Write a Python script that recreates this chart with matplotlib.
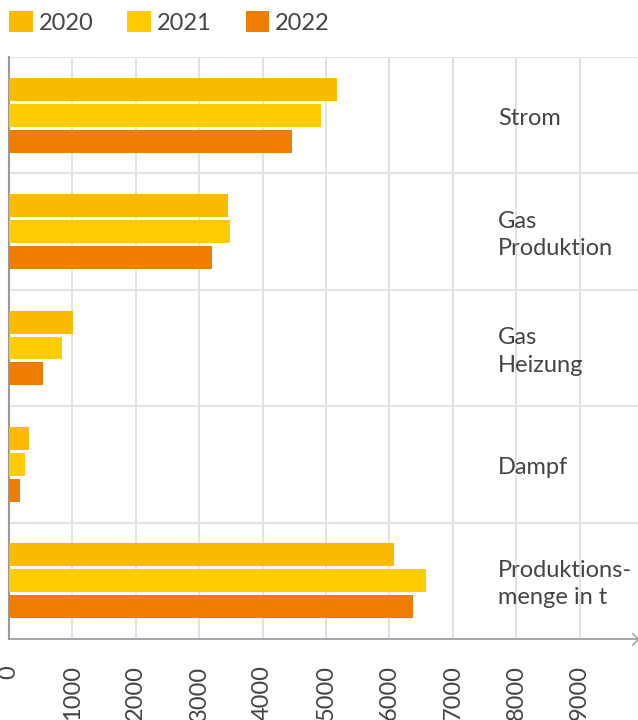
import matplotlib.pyplot as plt
from matplotlib.patches import Patch
from matplotlib.path import Path
import numpy as np

plt.rcParams['font.family'] = ['Lato', 'DejaVu Sans']

categories = ["Strom", "Gas\nProduktion", "Gas\nHeizung", "Dampf", "Produktions-\nmenge in t"]
years = ["2020", "2021", "2022"]
values_2020 = [5170, 3450, 1010, 315, 6070]
values_2021 = [4920, 3490, 836, 252, 6580]
values_2022 = [4460, 3200, 536, 173, 6370]
xticks = [0, 1000, 2000, 3000, 4000, 5000, 6000, 7000, 8000, 9000]

colors = ["#FBBA00", "#FECC00", "#EF7D00"]
text_color = "#444444"
fs = 17

fig = plt.figure(figsize=(6.38, 7.2), dpi=100)
ax = fig.add_axes([9 / 638, 81 / 720, 629 / 638, 582 / 720])

y = np.arange(len(categories))
series = [values_2020, values_2021, values_2022]
for j, vals in enumerate(series):
    ax.barh(y + (j - 1) * 0.223, vals, height=0.197, color=colors[j], zorder=3)

ax.set_xlim(0, 9920)
ax.set_ylim(len(categories) - 0.5, -0.5)

# category labels sit inside the plot on the right
for i, cat in enumerate(categories):
    ax.text(7710, i + 0.03, cat, ha="left", va="center", fontsize=fs,
            color=text_color, zorder=4, linespacing=1.36)

ax.set_xticks(xticks)
ax.set_xticklabels([str(t) for t in xticks], rotation=90, fontsize=fs,
                   color=text_color, va="top", ha="center")
ax.tick_params(axis="x", length=0, pad=19)
ax.set_yticks([])
ax.set_yticks(np.arange(-0.5, len(categories)), minor=True)
ax.tick_params(axis="y", which="both", length=0)

ax.grid(axis="x", color="#DDDDDD", linewidth=1.2, zorder=0)
ax.grid(axis="y", which="minor", color="#E3E3E3", linewidth=1.5, zorder=0)

for s in ["top", "right"]:
    ax.spines[s].set_visible(False)
ax.spines["left"].set_color("#999999")
ax.spines["left"].set_linewidth(1.5)
ax.spines["bottom"].set_color("#999999")
ax.spines["bottom"].set_linewidth(1.2)
chevron = Path([(-1, 1), (0, 0), (-1, -1)], [Path.MOVETO, Path.LINETO, Path.LINETO])
ax.plot(1, 0, marker=chevron, markersize=9, markerfacecolor="none",
        markeredgecolor="#999999", markeredgewidth=1.0,
        transform=ax.transAxes, clip_on=False)

handles = [Patch(facecolor=c, edgecolor="none") for c in colors]
fig.legend(handles, years, loc="upper left", bbox_to_anchor=(9 / 638, 1 - 11 / 720),
           ncol=3, frameon=False, handlelength=1.0, handleheight=1.0,
           handletextpad=0.26, columnspacing=1.43, borderpad=0, borderaxespad=0,
           labelcolor=text_color, prop={"size": fs})

fig.savefig("out.png", dpi=100)
